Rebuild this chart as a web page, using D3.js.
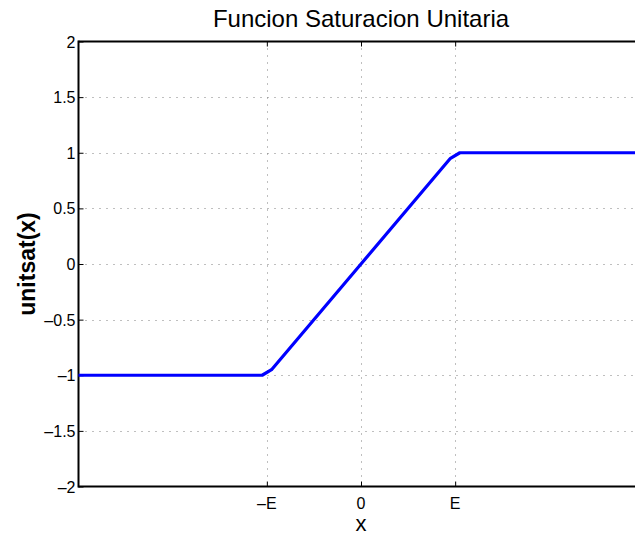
<!DOCTYPE html>
<html>
<head>
<meta charset="utf-8">
<script src="https://cdn.jsdelivr.net/npm/d3@7"></script>
<style>
  html, body { margin: 0; padding: 0; background: #fff; }
  svg { display: block; }
  text { font-family: "Liberation Sans", Arial, Helvetica, sans-serif; fill: #000; }
</style>
</head>
<body>
<svg id="chart" width="635" height="535"></svg>
<script>
// Unit saturation curve, sampled around the corners at ±E (E = 1)
const xValues = [-3, -1.05, -0.95, 0, 0.95, 1.05, 3];
const yValues = [-1, -1, -0.95, 0, 0.95, 1, 1];

const xTickValues = [-1, 0, 1];
const xTickLabels = ["\u2013E", "0", "E"];
const yTickValues = [-2, -1.5, -1, -0.5, 0, 0.5, 1, 1.5, 2];
const yTickLabels = ["\u20132", "\u20131.5", "\u20131", "\u20130.5", "0", "0.5", "1", "1.5", "2"];

const titleText = "Funcion Saturacion Unitaria";
const xLabelText = "x";
const yLabelText = "unitsat(x)";

const svg = d3.select("#chart");
const plotLeft = 78.5, plotRight = 643.5, plotTop = 41.5, plotBottom = 486.5;

const x = d3.scaleLinear().domain([-3, 3]).range([plotLeft, plotRight]);
const y = d3.scaleLinear().domain([-2, 2]).range([plotBottom, plotTop]);

// dotted grid
const grid = svg.append("g").attr("stroke", "#7f7f7f").attr("stroke-width", 1)
  .attr("stroke-dasharray", "1,6");
grid.selectAll("line.v").data(xTickValues).enter().append("line")
  .attr("x1", d => Math.round(x(d)) + 0.5).attr("x2", d => Math.round(x(d)) + 0.5)
  .attr("y1", plotTop).attr("y2", plotBottom);
grid.selectAll("line.h").data(yTickValues.filter(v => v > -2 && v < 2)).enter().append("line")
  .attr("y1", d => Math.round(y(d)) + 0.5).attr("y2", d => Math.round(y(d)) + 0.5)
  .attr("x1", plotLeft).attr("x2", plotRight);

// axes box with inward ticks
const tickLen = 5;
const xAxisBottom = d3.axisTop(x).tickValues(xTickValues).tickSize(tickLen).tickFormat("");
const xAxisTop = d3.axisBottom(x).tickValues(xTickValues).tickSize(tickLen).tickFormat("");
const yAxisLeft = d3.axisRight(y).tickValues(yTickValues).tickSize(tickLen).tickFormat("");

svg.append("g").attr("transform", `translate(0,${plotBottom})`).call(xAxisBottom);
svg.append("g").attr("transform", `translate(0,${plotTop})`).call(xAxisTop);
svg.append("g").attr("transform", `translate(${plotLeft},0)`).call(yAxisLeft);
svg.selectAll(".domain").remove();
svg.selectAll(".tick line").attr("stroke", "#000").attr("stroke-width", 1);

const frame = svg.append("g").attr("stroke", "#000").attr("stroke-width", 2).attr("fill", "none");
frame.append("line").attr("x1", plotLeft).attr("x2", plotRight + 5).attr("y1", plotTop).attr("y2", plotTop);
frame.append("line").attr("x1", plotLeft).attr("x2", plotRight + 5).attr("y1", plotBottom).attr("y2", plotBottom);
frame.append("line").attr("x1", plotLeft).attr("x2", plotLeft).attr("y1", plotTop - 1).attr("y2", plotBottom + 1);

// tick labels
svg.append("g").selectAll("text").data(xTickValues).enter().append("text")
  .attr("x", d => x(d)).attr("y", plotBottom + 22)
  .attr("text-anchor", "middle").attr("font-size", 16)
  .text((d, i) => xTickLabels[i]);
svg.append("g").selectAll("text").data(yTickValues).enter().append("text")
  .attr("x", plotLeft - 3).attr("y", d => y(d) + 6)
  .attr("text-anchor", "end").attr("font-size", 16)
  .text((d, i) => yTickLabels[i]);

// saturation curve
const pts = xValues.map((v, i) => [v, yValues[i]]);
svg.append("path").datum(pts)
  .attr("fill", "none").attr("stroke", "#0000ff").attr("stroke-width", 3.2)
  .attr("stroke-linejoin", "round")
  .attr("d", d3.line().x(d => x(d[0])).y(d => y(d[1])));

// titles
svg.append("text").attr("x", (plotLeft + plotRight) / 2).attr("y", 27)
  .attr("text-anchor", "middle").attr("font-size", 24).text(titleText);
svg.append("text").attr("x", (plotLeft + plotRight) / 2).attr("y", 531)
  .attr("text-anchor", "middle").attr("font-size", 22).text(xLabelText);
svg.append("text").attr("transform", `translate(35,${(plotTop + plotBottom) / 2}) rotate(-90)`)
  .attr("text-anchor", "middle").attr("font-size", 23).attr("font-weight", "bold").text(yLabelText);
</script>
</body>
</html>
